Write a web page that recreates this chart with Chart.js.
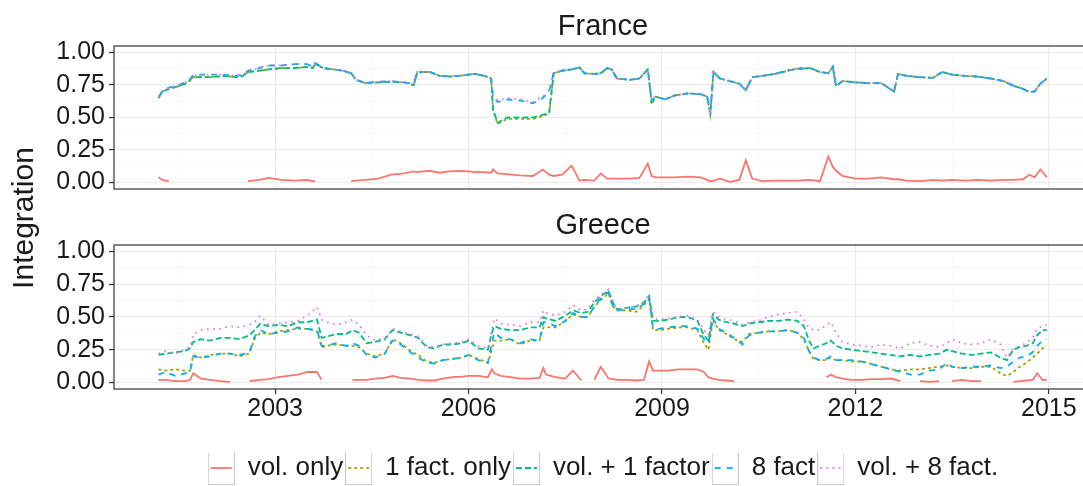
<!DOCTYPE html>
<html>
<head>
<meta charset="utf-8">
<title>Integration</title>
<script src="https://cdn.jsdelivr.net/npm/chart.js@4/dist/chart.umd.min.js"></script>
<style>
  html, body { margin: 0; padding: 0; background: #ffffff; overflow: hidden; width: 1083px; height: 486px; }
  #wrap { position: relative; width: 1110px; height: 500px; }
  #wrap canvas { position: absolute; left: 0; top: 0; }
</style>
</head>
<body>
<div id="wrap">
  <canvas id="franceCanvas" width="1110" height="500"></canvas>
  <canvas id="greeceCanvas" width="1110" height="500"></canvas>
</div>
<script>
// ---- series names and axis breaks ----
const seriesNames = ['vol. only', '1 fact. only', 'vol. + 1 factor', '8 fact', 'vol. + 8 fact.'];
const xBreaks = [2003, 2006, 2009, 2012, 2015];
const xMinorBreaks = [2001.5, 2004.5, 2007.5, 2010.5, 2013.5];
const yBreaks = [0, 0.25, 0.5, 0.75, 1];
const yMinorBreaks = [0.125, 0.375, 0.625, 0.875];

// ---- France (decimal years) ----
const franceDates = [2001.19, 2001.25, 2001.35, 2001.5, 2001.65, 2001.72, 2001.8, 2002.0, 2002.2, 2002.4,
  2002.5, 2002.58, 2002.75, 2002.9, 2003.1, 2003.3, 2003.5, 2003.58, 2003.62, 2003.75,
  2003.9, 2004.05, 2004.18, 2004.25, 2004.4, 2004.6, 2004.8, 2005.0, 2005.15, 2005.2,
  2005.28, 2005.4, 2005.55, 2005.7, 2005.85, 2006.0, 2006.1, 2006.25, 2006.35, 2006.38,
  2006.45, 2006.6, 2006.8, 2007.0, 2007.15, 2007.25, 2007.32, 2007.45, 2007.6, 2007.72,
  2007.8, 2007.95, 2008.05, 2008.15, 2008.22, 2008.3, 2008.5, 2008.65, 2008.78, 2008.84,
  2008.9, 2009.05, 2009.2, 2009.4, 2009.6, 2009.7, 2009.75, 2009.8, 2009.9, 2010.05,
  2010.2, 2010.3, 2010.4, 2010.55, 2010.75, 2010.95, 2011.1, 2011.3, 2011.45, 2011.58,
  2011.65, 2011.7, 2011.8, 2012.0, 2012.2, 2012.4, 2012.6, 2012.66, 2012.8, 2013.0,
  2013.2, 2013.35, 2013.5, 2013.7, 2013.9, 2014.1, 2014.3, 2014.45, 2014.6, 2014.7,
  2014.78, 2014.87, 2014.97];
const franceVolOnly = [0.04, 0.02, 0.01, null, null, 0.05, null, null, null, null,
  null, 0.01, 0.02, 0.035, 0.02, 0.015, 0.02, 0.01, 0.01, null,
  null, null, 0.01, 0.015, 0.02, 0.03, 0.06, 0.07, 0.085, 0.08,
  0.085, 0.09, 0.075, 0.085, 0.09, 0.085, 0.08, 0.08, 0.075, 0.10,
  0.07, 0.065, 0.055, 0.05, 0.10, 0.06, 0.05, 0.06, 0.13, 0.015,
  0.02, 0.015, 0.07, 0.03, 0.03, 0.03, 0.03, 0.035, 0.145, 0.05,
  0.04, 0.04, 0.04, 0.045, 0.04, 0.02, 0.01, 0.015, 0.03, 0.005,
  0.02, 0.17, 0.03, 0.01, 0.015, 0.015, 0.015, 0.02, 0.01, 0.20,
  0.12, 0.09, 0.05, 0.03, 0.03, 0.04, 0.025, 0.025, 0.015, 0.01,
  0.02, 0.015, 0.02, 0.015, 0.02, 0.015, 0.02, 0.02, 0.025, 0.06,
  0.04, 0.10, 0.04];
const france1Fact = [0.65, 0.70, 0.72, 0.74, 0.77, 0.81, 0.81, 0.81, 0.82, 0.81,
  0.82, 0.85, 0.86, 0.87, 0.88, 0.88, 0.89, 0.88, 0.91, 0.88,
  0.87, 0.86, 0.84, 0.79, 0.765, 0.77, 0.775, 0.77, 0.75, 0.84,
  0.85, 0.85, 0.82, 0.815, 0.82, 0.83, 0.835, 0.82, 0.80, 0.55,
  0.45, 0.49, 0.49, 0.49, 0.51, 0.53, 0.84, 0.86, 0.87, 0.885,
  0.84, 0.835, 0.84, 0.88, 0.87, 0.80, 0.79, 0.80, 0.87, 0.60,
  0.66, 0.64, 0.67, 0.685, 0.68, 0.66, 0.52, 0.85, 0.80, 0.78,
  0.76, 0.71, 0.81, 0.82, 0.835, 0.86, 0.875, 0.88, 0.85, 0.84,
  0.89, 0.74, 0.78, 0.77, 0.765, 0.765, 0.70, 0.835, 0.82, 0.81,
  0.805, 0.85, 0.83, 0.82, 0.815, 0.80, 0.78, 0.745, 0.72, 0.695,
  0.70, 0.76, 0.80];
const franceVol1Factor = [0.65, 0.70, 0.72, 0.74, 0.77, 0.81, 0.81, 0.81, 0.82, 0.81,
  0.82, 0.85, 0.86, 0.87, 0.88, 0.88, 0.89, 0.88, 0.91, 0.88,
  0.87, 0.86, 0.84, 0.79, 0.765, 0.77, 0.775, 0.77, 0.75, 0.84,
  0.85, 0.85, 0.82, 0.815, 0.82, 0.83, 0.835, 0.82, 0.80, 0.56,
  0.46, 0.50, 0.50, 0.50, 0.52, 0.54, 0.84, 0.86, 0.87, 0.885,
  0.84, 0.835, 0.84, 0.88, 0.87, 0.80, 0.79, 0.80, 0.87, 0.62,
  0.66, 0.64, 0.67, 0.685, 0.68, 0.66, 0.54, 0.85, 0.80, 0.78,
  0.76, 0.71, 0.81, 0.82, 0.835, 0.86, 0.875, 0.88, 0.85, 0.84,
  0.89, 0.74, 0.78, 0.77, 0.765, 0.765, 0.70, 0.835, 0.82, 0.81,
  0.805, 0.85, 0.83, 0.82, 0.815, 0.80, 0.78, 0.745, 0.72, 0.695,
  0.70, 0.76, 0.80];
const france8Fact = [0.66, 0.70, 0.73, 0.75, 0.78, 0.82, 0.83, 0.83, 0.83, 0.82,
  0.83, 0.86, 0.88, 0.90, 0.90, 0.91, 0.91, 0.89, 0.92, 0.88,
  0.87, 0.86, 0.84, 0.79, 0.765, 0.775, 0.78, 0.77, 0.76, 0.85,
  0.85, 0.85, 0.82, 0.82, 0.82, 0.83, 0.835, 0.82, 0.80, 0.66,
  0.62, 0.64, 0.63, 0.61, 0.65, 0.70, 0.84, 0.86, 0.87, 0.885,
  0.84, 0.835, 0.84, 0.88, 0.87, 0.80, 0.79, 0.80, 0.87, 0.63,
  0.66, 0.64, 0.67, 0.685, 0.68, 0.66, 0.55, 0.85, 0.80, 0.78,
  0.76, 0.71, 0.81, 0.82, 0.835, 0.86, 0.875, 0.88, 0.85, 0.84,
  0.89, 0.74, 0.78, 0.77, 0.765, 0.765, 0.70, 0.835, 0.82, 0.81,
  0.805, 0.85, 0.83, 0.82, 0.815, 0.80, 0.78, 0.745, 0.72, 0.695,
  0.70, 0.76, 0.80];
const franceVol8Fact = [0.66, 0.70, 0.73, 0.75, 0.78, 0.82, 0.83, 0.83, 0.83, 0.82,
  0.83, 0.86, 0.88, 0.90, 0.90, 0.91, 0.91, 0.89, 0.92, 0.88,
  0.87, 0.86, 0.84, 0.79, 0.765, 0.775, 0.78, 0.77, 0.76, 0.85,
  0.85, 0.85, 0.82, 0.82, 0.82, 0.83, 0.835, 0.82, 0.80, 0.66,
  0.63, 0.65, 0.64, 0.62, 0.66, 0.71, 0.84, 0.86, 0.87, 0.885,
  0.84, 0.835, 0.84, 0.88, 0.87, 0.80, 0.79, 0.80, 0.87, 0.64,
  0.66, 0.64, 0.67, 0.685, 0.68, 0.66, 0.56, 0.85, 0.80, 0.78,
  0.76, 0.71, 0.81, 0.82, 0.835, 0.86, 0.875, 0.88, 0.85, 0.84,
  0.89, 0.74, 0.78, 0.77, 0.765, 0.765, 0.70, 0.835, 0.82, 0.81,
  0.805, 0.85, 0.83, 0.82, 0.815, 0.80, 0.78, 0.745, 0.72, 0.695,
  0.70, 0.76, 0.80];

// ---- Greece (decimal years) ----
const greeceDates = [2001.19, 2001.3, 2001.45, 2001.6, 2001.68, 2001.73, 2001.85, 2002.0, 2002.15, 2002.3,
  2002.45, 2002.6, 2002.68, 2002.77, 2002.9, 2003.05, 2003.2, 2003.35, 2003.5, 2003.65,
  2003.72, 2003.8, 2003.95, 2004.1, 2004.2, 2004.3, 2004.42, 2004.55, 2004.7, 2004.82,
  2004.95, 2005.1, 2005.22, 2005.35, 2005.47, 2005.6, 2005.75, 2005.9, 2006.0, 2006.15,
  2006.3, 2006.36, 2006.4, 2006.5, 2006.65, 2006.8, 2006.95, 2007.1, 2007.16, 2007.2,
  2007.35, 2007.5, 2007.62, 2007.75, 2007.85, 2007.95, 2008.05, 2008.17, 2008.24, 2008.3,
  2008.45, 2008.6, 2008.72, 2008.8, 2008.86, 2008.95, 2009.1, 2009.25, 2009.4, 2009.55,
  2009.65, 2009.72, 2009.79, 2009.88, 2010.0, 2010.12, 2010.25, 2010.35, 2010.5, 2010.65,
  2010.8, 2010.95, 2011.1, 2011.2, 2011.28, 2011.35, 2011.45, 2011.55, 2011.62, 2011.7,
  2011.8, 2011.95, 2012.1, 2012.25, 2012.4, 2012.55, 2012.7, 2012.85, 2013.0, 2013.15,
  2013.3, 2013.42, 2013.5, 2013.65, 2013.8, 2013.95, 2014.1, 2014.25, 2014.35, 2014.45,
  2014.55, 2014.65, 2014.75, 2014.82, 2014.9, 2014.97];
const greeceVolOnly = [0.02, 0.02, 0.01, 0.01, 0.02, 0.07, 0.03, 0.02, 0.01, 0.005,
  null, 0.01, 0.015, 0.02, 0.025, 0.04, 0.05, 0.06, 0.08, 0.08,
  0.02, null, null, null, 0.02, 0.02, 0.02, 0.03, 0.035, 0.05,
  0.035, 0.03, 0.02, 0.015, 0.015, 0.03, 0.04, 0.045, 0.05, 0.05,
  0.04, 0.10, 0.07, 0.05, 0.04, 0.03, 0.03, 0.035, 0.11, 0.06,
  0.04, 0.03, 0.09, 0.015, null, 0.02, 0.12, 0.03, 0.025, 0.02,
  0.02, 0.015, 0.02, 0.16, 0.09, 0.09, 0.09, 0.10, 0.10, 0.10,
  0.08, 0.04, 0.03, 0.02, 0.015, 0.01, null, null, null, null,
  null, null, null, null, null, null, null, 0.04, 0.06, 0.04,
  0.03, 0.02, 0.02, 0.025, 0.025, 0.03, 0.01, null, 0.01, 0.005,
  0.01, null, 0.01, 0.02, 0.01, 0.01, null, null, null, 0.005,
  0.01, 0.015, 0.02, 0.07, 0.02, 0.02];
const greece1Fact = [0.10, 0.09, 0.10, 0.09, 0.09, 0.21, 0.19, 0.21, 0.22, 0.22,
  0.20, 0.22, 0.33, 0.38, 0.37, 0.39, 0.40, 0.41, 0.41, 0.39,
  0.27, 0.28, 0.29, 0.28, 0.28, 0.27, 0.22, 0.20, 0.22, 0.33,
  0.30, 0.24, 0.21, 0.16, 0.15, 0.17, 0.18, 0.19, 0.21, 0.18,
  0.15, 0.25, 0.32, 0.32, 0.33, 0.29, 0.32, 0.32, 0.42, 0.42,
  0.42, 0.47, 0.52, 0.50, 0.50, 0.58, 0.63, 0.68, 0.58, 0.55,
  0.55, 0.54, 0.59, 0.64, 0.40, 0.40, 0.41, 0.42, 0.42, 0.40,
  0.30, 0.25, 0.48, 0.40, 0.37, 0.33, 0.31, 0.37, 0.38, 0.39,
  0.39, 0.40, 0.38, 0.33, 0.24, 0.18, 0.17, 0.17, 0.19, 0.17,
  0.17, 0.16, 0.16, 0.14, 0.12, 0.10, 0.09, 0.10, 0.10, 0.11,
  0.12, 0.13, 0.12, 0.11, 0.11, 0.12, 0.12, 0.07, 0.05, 0.08,
  0.12, 0.15, 0.19, 0.22, 0.26, 0.28];
const greeceVol1Factor = [0.21, 0.22, 0.23, 0.24, 0.26, 0.31, 0.33, 0.32, 0.34, 0.34,
  0.33, 0.36, 0.40, 0.45, 0.43, 0.44, 0.43, 0.46, 0.46, 0.48,
  0.34, 0.35, 0.37, 0.37, 0.40, 0.38, 0.30, 0.31, 0.33, 0.40,
  0.38, 0.36, 0.34, 0.27, 0.26, 0.29, 0.29, 0.30, 0.32, 0.26,
  0.25, 0.38, 0.43, 0.41, 0.40, 0.40, 0.42, 0.42, 0.50, 0.49,
  0.47, 0.51, 0.55, 0.53, 0.54, 0.61, 0.66, 0.70, 0.61, 0.56,
  0.57, 0.58, 0.61, 0.66, 0.47, 0.47, 0.48, 0.50, 0.50, 0.47,
  0.36, 0.32, 0.52, 0.48, 0.46, 0.45, 0.43, 0.45, 0.46, 0.47,
  0.47, 0.48, 0.47, 0.43, 0.32, 0.26, 0.28, 0.30, 0.32, 0.28,
  0.26, 0.25, 0.24, 0.23, 0.22, 0.21, 0.20, 0.21, 0.20, 0.21,
  0.22, 0.25, 0.24, 0.22, 0.21, 0.22, 0.23, 0.19, 0.17, 0.25,
  0.27, 0.28, 0.30, 0.36, 0.40, 0.40];
const greece8Fact = [0.06, 0.08, 0.05, 0.07, 0.08, 0.20, 0.19, 0.20, 0.22, 0.22,
  0.21, 0.23, 0.35, 0.40, 0.37, 0.38, 0.39, 0.42, 0.41, 0.40,
  0.28, 0.28, 0.30, 0.28, 0.30, 0.28, 0.21, 0.19, 0.22, 0.32,
  0.29, 0.23, 0.19, 0.15, 0.145, 0.17, 0.18, 0.19, 0.21, 0.17,
  0.15, 0.30, 0.38, 0.34, 0.33, 0.30, 0.33, 0.32, 0.46, 0.46,
  0.43, 0.47, 0.53, 0.50, 0.50, 0.58, 0.64, 0.69, 0.58, 0.55,
  0.56, 0.56, 0.60, 0.65, 0.42, 0.41, 0.42, 0.43, 0.43, 0.41,
  0.33, 0.30, 0.49, 0.41, 0.38, 0.34, 0.29, 0.36, 0.38, 0.39,
  0.39, 0.40, 0.38, 0.34, 0.24, 0.19, 0.17, 0.18, 0.20, 0.17,
  0.17, 0.17, 0.16, 0.14, 0.12, 0.10, 0.08, 0.06, 0.06, 0.09,
  0.10, 0.15, 0.12, 0.11, 0.12, 0.12, 0.13, 0.11, 0.12, 0.16,
  0.19, 0.20, 0.23, 0.28, 0.32, 0.33];
const greeceVol8Fact = [0.22, 0.24, 0.22, 0.25, 0.27, 0.37, 0.40, 0.41, 0.41, 0.43,
  0.42, 0.44, 0.46, 0.51, 0.44, 0.45, 0.46, 0.47, 0.51, 0.575,
  0.48, 0.46, 0.44, 0.46, 0.48, 0.44, 0.36, 0.32, 0.34, 0.41,
  0.39, 0.37, 0.35, 0.28, 0.27, 0.29, 0.30, 0.31, 0.33, 0.28,
  0.26, 0.40, 0.49, 0.45, 0.44, 0.43, 0.46, 0.46, 0.55, 0.53,
  0.51, 0.54, 0.59, 0.55, 0.56, 0.63, 0.67, 0.71, 0.62, 0.56,
  0.57, 0.58, 0.62, 0.67, 0.49, 0.48, 0.49, 0.50, 0.51, 0.48,
  0.40, 0.36, 0.54, 0.50, 0.48, 0.47, 0.44, 0.46, 0.47, 0.50,
  0.52, 0.53, 0.54, 0.48, 0.42, 0.40, 0.40, 0.44, 0.46, 0.38,
  0.31, 0.29, 0.28, 0.27, 0.29, 0.28, 0.26, 0.30, 0.31, 0.28,
  0.27, 0.30, 0.33, 0.30, 0.29, 0.30, 0.33, 0.29, 0.19, 0.26,
  0.28, 0.30, 0.34, 0.41, 0.43, 0.44];

// ---- look ----
const FONT = '"Liberation Sans", Arial, Helvetica, sans-serif';
const INK = '#1a1a1a';
const lineColors = ['#F8766D', '#A3A500', '#00BF7D', '#00B0F6', '#E76BF3'];
const lineDashes = [[], [3, 3], [6, 3], [6, 6], [1.6, 4.6]];
const LINE_WIDTH = 1.8;
const X_MIN = 2000.5, X_MAX = 2015.67;

const isMajor = (arr, v) => arr.some(b => Math.abs(b - v) < 1e-9);

// legend keys: white square with grey border and a short line in the series style
const keyImages = lineColors.map((col, i) => {
  const c = document.createElement('canvas');
  c.width = 27; c.height = 34;
  const g = c.getContext('2d');
  g.fillStyle = '#ffffff';
  g.fillRect(0, 0, 27, 34);
  g.strokeStyle = '#cccccc';
  g.lineWidth = 1;
  g.strokeRect(0.5, 0.5, 26, 33);
  g.strokeStyle = col;
  g.lineWidth = LINE_WIDTH;
  g.setLineDash(lineDashes[i]);
  g.beginPath();
  g.moveTo(3, 17);
  g.lineTo(24, 17);
  g.stroke();
  return c;
});

// dark frame round each panel, drawn on top of the lines
const panelFrame = {
  id: 'panelFrame',
  afterDraw(chart) {
    const {ctx, chartArea: a} = chart;
    ctx.save();
    ctx.strokeStyle = '#333333';
    ctx.lineWidth = 1.2;
    ctx.strokeRect(a.left, a.top, a.right - a.left, a.bottom - a.top);
    ctx.restore();
  }
};

// shared y-axis title between the two panels
const sharedYTitle = {
  id: 'sharedYTitle',
  afterDraw(chart) {
    const ctx = chart.ctx;
    ctx.save();
    ctx.translate(25, 218);
    ctx.rotate(-Math.PI / 2);
    ctx.fillStyle = INK;
    ctx.font = '30px ' + FONT;
    ctx.textAlign = 'center';
    ctx.textBaseline = 'middle';
    ctx.fillText('Integration', 0, 0);
    ctx.restore();
  }
};

function makePanel(canvasId, title, dates, seriesValues, cfg) {
  const datasets = seriesValues.map((vals, i) => ({
    label: seriesNames[i],
    data: dates.map((d, j) => ({x: d, y: vals[j]})),
    borderColor: lineColors[i],
    borderDash: lineDashes[i],
    borderWidth: LINE_WIDTH,
    pointRadius: 0,
    pointHoverRadius: 0,
    fill: false,
    spanGaps: false,
    tension: 0,
    order: seriesValues.length - i
  }));

  const xGrid = xMinorBreaks.concat(xBreaks).sort((a, b) => a - b);
  const yGrid = yBreaks.concat(yMinorBreaks).sort((a, b) => a - b);

  return new Chart(document.getElementById(canvasId), {
    type: 'line',
    data: {datasets},
    options: {
      responsive: false,
      animation: false,
      events: [],
      layout: {padding: {left: 0, right: 18, top: cfg.padTop, bottom: cfg.padBottom}},
      scales: {
        x: {
          type: 'linear',
          min: X_MIN,
          max: X_MAX,
          afterBuildTicks: s => { s.ticks = xGrid.map(v => ({value: v})); },
          afterFit: s => { s.height = cfg.xHeight; },
          border: {display: false},
          grid: {
            color: c => isMajor(xBreaks, c.tick.value) ? '#ebebeb' : '#f4f4f4',
            lineWidth: c => isMajor(xBreaks, c.tick.value) ? 1.1 : 0.6,
            drawTicks: cfg.showX,
            tickLength: 5,
            tickWidth: 1.2,
            tickColor: c => isMajor(xBreaks, c.tick.value) ? '#333333' : 'rgba(0,0,0,0)'
          },
          ticks: {
            display: cfg.showX,
            autoSkip: false,
            maxRotation: 0,
            minRotation: 0,
            padding: 0,
            color: INK,
            font: {family: FONT, size: 25},
            callback: v => isMajor(xBreaks, v) ? String(Math.round(v)) : ''
          }
        },
        y: {
          type: 'linear',
          min: -0.05,
          max: 1.05,
          afterBuildTicks: s => { s.ticks = yGrid.map(v => ({value: v})); },
          afterFit: s => { s.width = 114; },
          border: {display: false},
          grid: {
            color: c => isMajor(yBreaks, c.tick.value) ? '#ebebeb' : '#f4f4f4',
            lineWidth: c => isMajor(yBreaks, c.tick.value) ? 1.1 : 0.6,
            tickLength: 5,
            tickWidth: 1.2,
            tickColor: c => isMajor(yBreaks, c.tick.value) ? '#333333' : 'rgba(0,0,0,0)'
          },
          ticks: {
            autoSkip: false,
            padding: 4,
            color: INK,
            font: {family: FONT, size: 25},
            callback: v => isMajor(yBreaks, v) ? v.toFixed(2) : ''
          }
        }
      },
      plugins: {
        tooltip: {enabled: false},
        title: {
          display: true,
          text: title,
          fullSize: false,
          color: INK,
          font: {family: FONT, size: 29, weight: 'normal', lineHeight: 1.2},
          padding: {top: cfg.titleTop, bottom: 1.2}
        },
        legend: cfg.legend
      }
    },
    plugins: cfg.extraPlugins
  });
}

makePanel('franceCanvas', 'France', franceDates,
  [franceVolOnly, france1Fact, franceVol1Factor, france8Fact, franceVol8Fact],
  {padTop: 0, titleTop: 10, padBottom: 311, xHeight: 0, showX: false,
   legend: {display: false}, extraPlugins: [panelFrame, sharedYTitle]});

makePanel('greeceCanvas', 'Greece', greeceDates,
  [greeceVolOnly, greece1Fact, greeceVol1Factor, greece8Fact, greeceVol8Fact],
  {padTop: 200, titleTop: 9, padBottom: 9, xHeight: 64, showX: true,
   legend: {
     display: true,
     position: 'bottom',
     fullSize: false,
     labels: {
       usePointStyle: true,
       pointStyleWidth: 27,
       padding: 2,
       color: INK,
       font: {family: FONT, size: 26},
       generateLabels: () => seriesNames.map((name, i) => ({
         text: name,
         pointStyle: keyImages[i],
         fillStyle: '#ffffff',
         strokeStyle: lineColors[i],
         lineWidth: 0,
         hidden: false,
         datasetIndex: i,
         fontColor: INK
       }))
     }
   },
   extraPlugins: [panelFrame]});
</script>
</body>
</html>
